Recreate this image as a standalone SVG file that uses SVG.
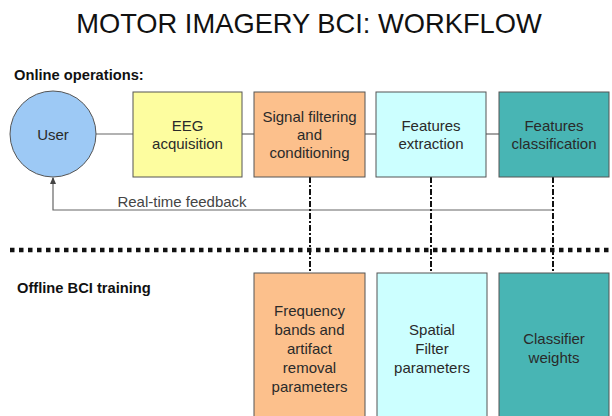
<svg xmlns="http://www.w3.org/2000/svg" width="612" height="416" viewBox="0 0 612 416">
<defs>
<style>
text{font-family:"Liberation Sans",Arial,sans-serif;fill:#2a2a2a}
.t{font-size:15px;text-anchor:middle}
.h{font-size:14.7px;font-weight:bold;fill:#111}
.box{stroke:#555;stroke-width:1}
.conn{stroke:#666;stroke-width:1.2;fill:none}
.dd{stroke:#111;stroke-width:2;stroke-dasharray:6 2 2 2;fill:none}
</style>
<marker id="arr" viewBox="0 0 6 6" refX="5" refY="3" markerWidth="6" markerHeight="6" orient="auto">
<path d="M0,0.5 L6,3 L0,5.5 z" fill="#444"/>
</marker>
</defs>
<rect width="612" height="416" fill="#fff"/>
<text x="309" y="33" style="font-size:27.3px;text-anchor:middle;fill:#111">MOTOR IMAGERY BCI: WORKFLOW</text>
<text class="h" x="14" y="80">Online operations:</text>
<text class="h" x="17" y="293">Offline BCI training</text>

<g id="connectors">
<line class="conn" x1="96" y1="134" x2="133" y2="134"/>
<line class="conn" x1="242" y1="134" x2="254" y2="134"/>
<line class="conn" x1="365" y1="134" x2="376" y2="134"/>
<line class="conn" x1="486" y1="134" x2="499" y2="134"/>
<polyline class="conn" points="553,210 53,210 53,178" marker-end="url(#arr)"/>
<text x="182" y="207" style="font-size:15px;text-anchor:middle;fill:#444">Real-time feedback</text>
<line class="dd" x1="310" y1="177" x2="310" y2="273"/>
<line class="dd" x1="431" y1="177" x2="431" y2="273"/>
<line class="dd" x1="553" y1="177" x2="553" y2="273"/>
<line x1="10" y1="250" x2="612" y2="250" stroke="#111" stroke-width="4.5" stroke-dasharray="4.5 4.5"/>
</g>

<g id="user">
<circle class="box" cx="53" cy="134" r="43" fill="#9dc9f5"/>
<text class="t" x="53" y="140">User</text>
</g>
<g id="eeg">
<rect class="box" x="133" y="92" width="109" height="85" fill="#fdfd9f"/>
<text class="t" x="187.5" y="131">EEG</text>
<text class="t" x="187.5" y="149">acquisition</text>
</g>
<g id="signal">
<rect class="box" x="254" y="92" width="111" height="85" fill="#fcc08c"/>
<text class="t" x="309.5" y="122">Signal filtering</text>
<text class="t" x="309.5" y="140">and</text>
<text class="t" x="309.5" y="158">conditioning</text>
</g>
<g id="extraction">
<rect class="box" x="376" y="92" width="110" height="85" fill="#ccffff"/>
<text class="t" x="431" y="131">Features</text>
<text class="t" x="431" y="149">extraction</text>
</g>
<g id="classification">
<rect class="box" x="499" y="92" width="110" height="85" fill="#48b5b4"/>
<text class="t" x="554" y="131">Features</text>
<text class="t" x="554" y="149">classification</text>
</g>
<g id="freq">
<rect class="box" x="254" y="273" width="111" height="150" fill="#fcc08c"/>
<text class="t" x="309.5" y="316">Frequency</text>
<text class="t" x="309.5" y="335">bands and</text>
<text class="t" x="309.5" y="354">artifact</text>
<text class="t" x="309.5" y="373">removal</text>
<text class="t" x="309.5" y="392">parameters</text>
</g>
<g id="spatial">
<rect class="box" x="377" y="273" width="110" height="150" fill="#ccffff"/>
<text class="t" x="432" y="335">Spatial</text>
<text class="t" x="432" y="354">Filter</text>
<text class="t" x="432" y="373">parameters</text>
</g>
<g id="weights">
<rect class="box" x="499" y="273" width="110" height="150" fill="#48b5b4"/>
<text class="t" x="554" y="344">Classifier</text>
<text class="t" x="554" y="363">weights</text>
</g>
</svg>
